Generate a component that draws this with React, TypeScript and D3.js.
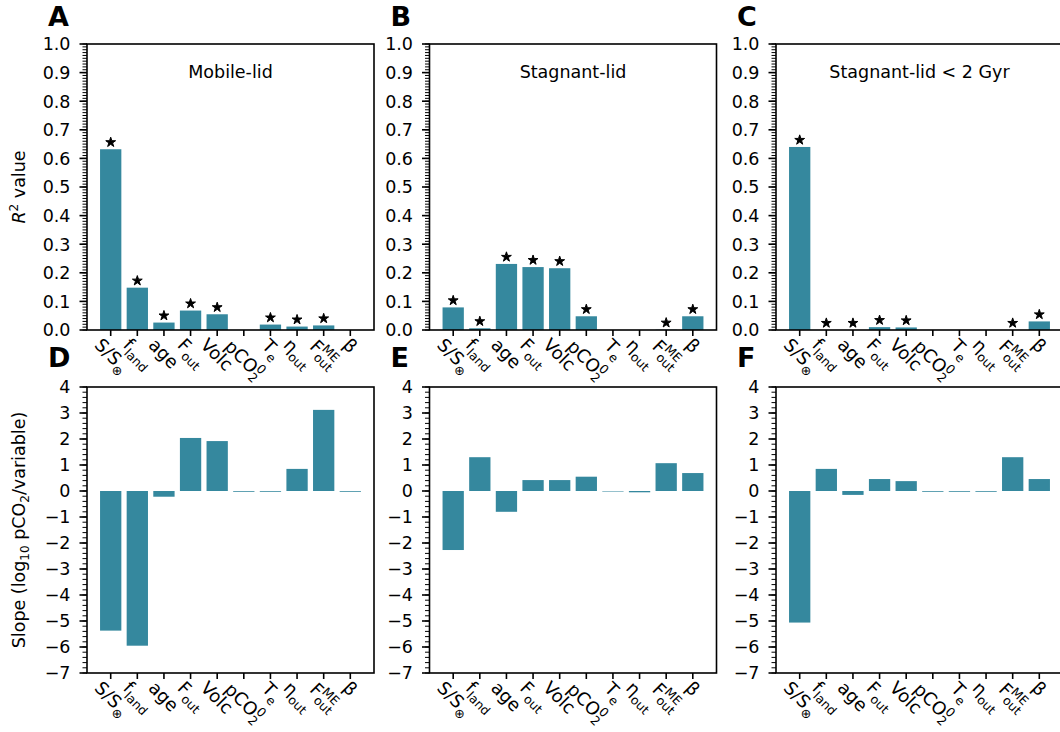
import React, { useEffect, useRef } from "react";
import * as d3 from "d3";

// x categories (mathtext-ish: base_sub^sup)
const categories = ["S/S_⊗", "f_land", "age", "F_out", "Volc", "pCO_2^0", "T_e", "η_out", "F_out^ME", "β"];

// R^2 values per regime, and whether the fit is significant (star)
const r2Mobile = [0.632, 0.148, 0.026, 0.068, 0.055, 0, 0.019, 0.012, 0.016, 0];
const sigMobile = [1, 1, 1, 1, 1, 0, 1, 1, 1, 0];
const r2Stagnant = [0.079, 0.006, 0.231, 0.22, 0.216, 0.048, 0, 0, 0.001, 0.048];
const sigStagnant = [1, 1, 1, 1, 1, 1, 0, 0, 1, 1];
const r2Young = [0.64, 0, 0, 0.01, 0.009, 0, 0, 0, 0, 0.03];
const sigYoung = [1, 1, 1, 1, 1, 0, 0, 0, 1, 1];

// slopes (log10 pCO2 / variable)
const slopeMobile = [-5.37, -5.95, -0.22, 2.04, 1.92, -0.03, -0.03, 0.85, 3.12, -0.03];
const slopeStagnant = [-2.27, 1.3, -0.8, 0.42, 0.42, 0.55, -0.02, -0.05, 1.07, 0.69];
const slopeYoung = [-5.06, 0.85, -0.15, 0.46, 0.38, -0.03, -0.03, -0.03, 1.3, 0.46];

const titles = ["Mobile-lid", "Stagnant-lid", "Stagnant-lid < 2 Gyr"];
const topLetters = ["A", "B", "C"];
const bottomLetters = ["D", "E", "F"];
const r2Ticks = [0, 0.1, 0.2, 0.3, 0.4, 0.5, 0.6, 0.7, 0.8, 0.9, 1.0];
const slopeTicks = [-7, -6, -5, -4, -3, -2, -1, 0, 1, 2, 3, 4];

const FONT = "DejaVu Sans";
const BAR = "#35889e";

function addLabel(text: any, label: string) {
  const m = label.match(/^([^_^]+)(?:_([^^]+))?(?:\^(.+))?$/)!;
  const [, base, sub, sup] = m;
  text.append("tspan").text(base);
  let subLen = 0;
  if (sub) {
    const t = text.append("tspan").attr("font-size", 12.5).attr("dy", 5).text(sub);
    subLen = t.node().getComputedTextLength();
  }
  if (sup) {
    text.append("tspan").attr("font-size", 12.5)
      .attr("dx", sub ? -subLen : 0)
      .attr("dy", sub ? -12 : -7)
      .text(sup);
  }
}

function drawPanel(svg: any, p: any) {
  const width = 287;
  const n = categories.length;
  const x = d3.scaleLinear().domain([-0.89, n - 1 + 0.89]).range([p.left, p.left + width]);
  const y = d3.scaleLinear().domain(p.domain).range([p.bottom, p.top]);
  const g = svg.append("g");

  g.selectAll("rect.bar")
    .data(p.values)
    .join("rect")
    .attr("class", "bar")
    .attr("x", (_: number, i: number) => x(i - 0.4))
    .attr("width", x(0.8) - x(0))
    .attr("y", (d: number) => y(Math.max(d, 0)))
    .attr("height", (d: number) => Math.abs(y(d) - y(0)))
    .attr("fill", BAR);

  if (p.sig) {
    const star = d3.symbol(d3.symbolStar, 30);
    g.selectAll("path.star")
      .data(p.values.map((v: number, i: number) => ({ v, i })).filter((d: any) => p.sig[d.i]))
      .join("path")
      .attr("class", "star")
      .attr("d", star)
      .attr("transform", (d: any) => `translate(${x(d.i)},${y(d.v + 0.026) + 0.5})`)
      .attr("fill", "black")
      .attr("stroke", "black")
      .attr("stroke-width", 1)
      .attr("stroke-linejoin", "round");
  }

  // minor y ticks
  const [lo, hi] = p.domain;
  const minor = d3.range(Math.round((hi - lo) / p.minorStep) + 1).map(k => lo + k * p.minorStep);
  g.selectAll("line.minor")
    .data(minor)
    .join("line")
    .attr("x1", p.left - 4.5).attr("x2", p.left)
    .attr("y1", (d: number) => y(d)).attr("y2", (d: number) => y(d))
    .attr("stroke", "black").attr("stroke-width", 1);

  // major y ticks + labels
  g.selectAll("line.major")
    .data(p.ticks)
    .join("line")
    .attr("x1", p.left - 7.5).attr("x2", p.left)
    .attr("y1", (d: number) => y(d)).attr("y2", (d: number) => y(d))
    .attr("stroke", "black").attr("stroke-width", 1.6);
  g.selectAll("text.ytick")
    .data(p.ticks)
    .join("text")
    .attr("x", p.left - 16.5)
    .attr("y", (d: number) => y(d))
    .attr("dy", "0.36em")
    .attr("text-anchor", "end")
    .attr("font-family", FONT)
    .attr("font-size", 17.5)
    .text((d: number) => p.fmt(d));

  // x ticks
  g.selectAll("line.xtick")
    .data(categories)
    .join("line")
    .attr("x1", (_: string, i: number) => x(i)).attr("x2", (_: string, i: number) => x(i))
    .attr("y1", p.bottom).attr("y2", p.bottom + 6)
    .attr("stroke", "black").attr("stroke-width", 1.6);

  // rotated x labels, bbox centred under the tick
  categories.forEach((c, i) => {
    const lg = g.append("g");
    const t = lg.append("text")
      .attr("font-family", FONT)
      .attr("font-size", 18)
      .attr("transform", "rotate(45)");
    addLabel(t, c);
    const bb = lg.node().getBBox();
    lg.attr("transform", `translate(${x(i) - (bb.x + bb.width / 2)},${p.bottom + 4 - bb.y})`);
  });

  // frame
  g.append("rect")
    .attr("x", p.left).attr("y", p.top)
    .attr("width", width).attr("height", p.bottom - p.top)
    .attr("fill", "none").attr("stroke", "black").attr("stroke-width", 1.6);

  if (p.title) {
    g.append("text")
      .attr("x", p.left + width / 2).attr("y", p.top + 34)
      .attr("text-anchor", "middle")
      .attr("font-family", FONT).attr("font-size", 17.5)
      .text(p.title);
  }

  g.append("text")
    .attr("x", p.left - 39).attr("y", p.letterY)
    .attr("font-family", FONT).attr("font-size", 27).attr("font-weight", "bold")
    .text(p.letter);
}

export default function App() {
  const ref = useRef<SVGSVGElement>(null);

  useEffect(() => {
    const svg = d3.select(ref.current);
    svg.selectAll("*").remove();

    const lefts = [87, 429.5, 776];
    const r2 = [r2Mobile, r2Stagnant, r2Young];
    const sig = [sigMobile, sigStagnant, sigYoung];
    const slopes = [slopeMobile, slopeStagnant, slopeYoung];

    lefts.forEach((left, k) => {
      drawPanel(svg, {
        left, top: 44, bottom: 330, values: r2[k], sig: sig[k],
        domain: [0, 1], ticks: r2Ticks, minorStep: 0.01,
        fmt: d3.format(".1f"), title: titles[k], letter: topLetters[k], letterY: 26,
      });
      drawPanel(svg, {
        left, top: 387, bottom: 673, values: slopes[k],
        domain: [-7, 4], ticks: slopeTicks, minorStep: 0.2,
        fmt: d3.format("d"), letter: bottomLetters[k], letterY: 367,
      });
    });

    // y axis titles
    const yl1 = svg.append("text")
      .attr("transform", "translate(25,187) rotate(-90)")
      .attr("text-anchor", "middle")
      .attr("font-family", FONT).attr("font-size", 17.5);
    yl1.append("tspan").attr("font-style", "italic").text("R");
    yl1.append("tspan").attr("font-size", 12).attr("dy", -7).text("2");
    yl1.append("tspan").attr("dy", 7).text(" value");

    const yl2 = svg.append("text")
      .attr("transform", "translate(25,530) rotate(-90)")
      .attr("text-anchor", "middle")
      .attr("font-family", FONT).attr("font-size", 17.5);
    yl2.append("tspan").text("Slope (log");
    yl2.append("tspan").attr("font-size", 12).attr("dy", 4).text("10");
    yl2.append("tspan").attr("dy", -4).text(" pCO");
    yl2.append("tspan").attr("font-size", 12).attr("dy", 4).text("2");
    yl2.append("tspan").attr("dy", -4).text("/variable)");
  }, []);

  return (
    <svg
      ref={ref}
      width={1060}
      height={732}
      style={{ position: "absolute", left: 0, top: 0, background: "white" }}
    ></svg>
  );
}
